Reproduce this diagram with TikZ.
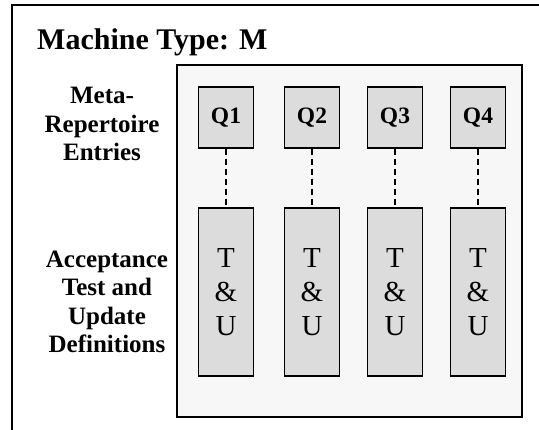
\documentclass[tikz,border=0pt]{standalone}
\usepackage{fontspec}
\setmainfont{Liberation Serif}
\definecolor{panelfill}{HTML}{F7F7F7}
\definecolor{boxfill}{HTML}{DCDCDC}
\begin{document}
\begin{tikzpicture}[x=1pt,y=-1pt,
  qbox/.style={draw=black,line width=1.3pt,fill=boxfill,minimum width=55pt,minimum height=61pt,inner sep=0pt,
    font=\fontsize{23.5}{27}\selectfont\bfseries},
  tubox/.style={draw=black,line width=1.3pt,fill=boxfill,minimum width=55pt,minimum height=168pt,inner sep=0pt,
    align=center,font=\fontsize{29}{34}\selectfont},
  sidelabel/.style={align=center,font=\fontsize{25}{28.5}\selectfont\bfseries},
  link/.style={line width=1.1pt,dash pattern=on 6.5pt off 3.5pt}]
\useasboundingbox (0,0) rectangle (539,430);
% outer frame, running off the right and bottom edges
\begin{scope}
  \clip (0,0) rectangle (539,430);
  \draw[line width=1.5pt] (12,445) -- (12,5) -- (560,5);
\end{scope}
\node[anchor=base west,font=\fontsize{30}{34}\selectfont\bfseries,inner sep=0pt] (title) at (37,50) {Machine Type: M};
% inner panel
\draw[line width=1.3pt,fill=panelfill] (177,65) rectangle (522,417);
% side labels
\node[sidelabel] (meta) at (102,124) {Meta-\\Repertoire\\Entries};
\node[sidelabel] (accept) at (107,302) {Acceptance\\Test and\\Update\\Definitions};
% columns
\foreach \i/\x in {1/226,2/312,3/395,4/478}{
  \node[qbox] (q\i) at (\x,117.5) {Q\i};
  \node[tubox] (t\i) at (\x,292) {T\\\&\\U};
  \draw[link] (q\i.south) -- (t\i.north);
}
\end{tikzpicture}
\end{document}
